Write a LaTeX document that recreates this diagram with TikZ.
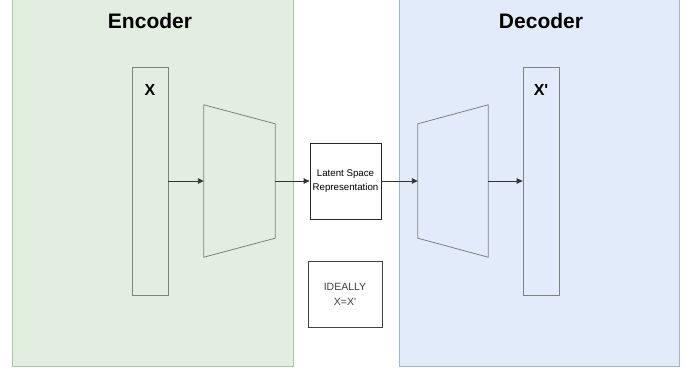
\documentclass[tikz,border=0pt]{standalone}
\usepackage{fontspec}
\setmainfont{Liberation Sans}
\usetikzlibrary{arrows.meta,calc}
\definecolor{encfill}{HTML}{E2EEDF}
\definecolor{encdraw}{HTML}{A9C8A3}
\definecolor{decfill}{HTML}{E1EBF9}
\definecolor{decdraw}{HTML}{A4B6D0}
\definecolor{shapedraw}{HTML}{808080}
\definecolor{arrowcol}{HTML}{333333}
\tikzset{
  panel/.style={line width=0.8pt},
  title/.style={font=\bfseries\fontsize{21}{24}\selectfont, text=black},
  vecbox/.style={draw=shapedraw, line width=0.8pt, minimum width=36pt, minimum height=228pt, inner sep=0pt},
  veclabel/.style={font=\bfseries\fontsize{16}{18}\selectfont},
  netbox/.style={minimum width=71pt, minimum height=152pt, inner sep=0pt},
  trap/.style={draw=shapedraw, line width=0.8pt},
  infobox/.style={draw=black!85, line width=0.8pt, fill=white, align=center, inner sep=0pt},
  flow/.style={draw=arrowcol, line width=0.9pt, -{Triangle[length=6pt,width=5.5pt]}}
}
\begin{document}
\begin{tikzpicture}[x=1pt,y=-1pt]
  \useasboundingbox (0,0) rectangle (696,372);
  \fill[white] (0,0) rectangle (696,372);

  % panels
  \draw[panel, fill=encfill, draw=encdraw] (12,-5) rectangle (293,366);
  \draw[panel, fill=decfill, draw=decdraw] (399,-5) rectangle (679,366);
  \node[title] (enctitle) at (150,21) {Encoder};
  \node[title] (dectitle) at (541,21) {Decoder};

  % input and output vectors
  \node[vecbox] (x) at (150,181) {};
  \node[veclabel] (xlabel) at (150,90) {X};
  \node[vecbox] (xp) at (541,181) {};
  \node[veclabel] (xplabel) at (541,90) {X\textquotesingle};

  % encoder network (narrowing)
  \node[netbox] (enc) at (239.5,181) {};
  \draw[trap] (enc.north west) -- ($(enc.north east)+(0,19)$)
              -- ($(enc.south east)+(0,-19)$) -- (enc.south west) -- cycle;

  % decoder network (widening)
  \node[netbox, minimum width=70pt] (dec) at (453,181) {};
  \draw[trap] ($(dec.north west)+(0,19)$) -- (dec.north east)
              -- (dec.south east) -- ($(dec.south west)+(0,-19)$) -- cycle;

  % latent code
  \node[infobox, minimum width=71pt, minimum height=76pt,
        font=\fontsize{9.7}{14}\selectfont] (latent) at (345.5,181)
        {Latent Space\\Representation};

  % note
  \node[infobox, draw=black!75, minimum width=74pt, minimum height=66pt,
        font=\fontsize{10.5}{15}\selectfont, text=black!75] (note) at (345,294)
        {IDEALLY\\X=X\textquotesingle};

  % data flow
  \draw[flow] (x.east) -- (enc.west);
  \draw[flow] (enc.east) -- (latent.west);
  \draw[flow] (latent.east) -- (dec.west);
  \draw[flow] (dec.east) -- (xp.west);
\end{tikzpicture}
\end{document}
